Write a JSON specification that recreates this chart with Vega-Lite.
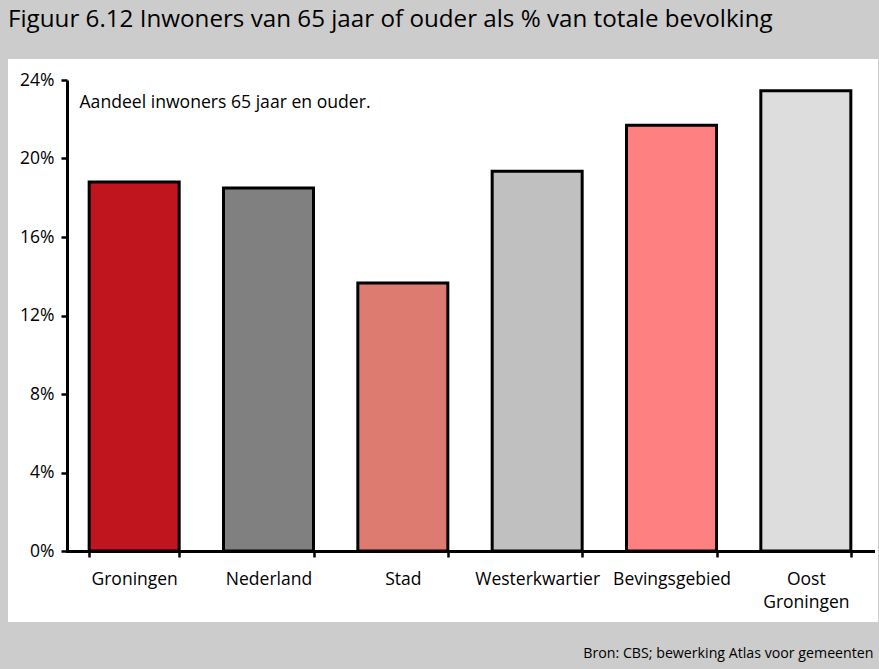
{
  "$schema": "https://vega.github.io/schema/vega-lite/v6.json",
  "autosize": {"type": "none"},
  "width": 870,
  "height": 563,
  "padding": {"left": 8, "top": 59, "right": 1, "bottom": 47},
  "background": "#cccccc",
  "config": {
    "font": "Open Sans",
    "view": {"fill": "white", "stroke": null}
  },
  "title": {
    "text": "Figuur 6.12 Inwoners van 65 jaar of ouder als % van totale bevolking",
    "anchor": "start",
    "frame": "group",
    "orient": "top",
    "fontSize": 24.2,
    "fontWeight": "normal",
    "color": "black",
    "baseline": "alphabetic",
    "offset": 8
  },
  "data": {
    "values": [
      {"regio": "Groningen", "aandeel": 18.8},
      {"regio": "Nederland", "aandeel": 18.5},
      {"regio": "Stad", "aandeel": 13.65},
      {"regio": "Westerkwartier", "aandeel": 19.35},
      {"regio": "Bevingsgebied", "aandeel": 21.7},
      {"regio": "Oost Groningen", "aandeel": 23.45}
    ]
  },
  "mark": {"type": "bar", "stroke": "black", "strokeWidth": 3, "cornerRadius": 0},
  "encoding": {
    "x": {
      "field": "regio",
      "type": "nominal",
      "sort": null,
      "scale": {"range": [59, 865], "paddingInner": 0.33, "paddingOuter": 0.165},
      "axis": {
        "title": "Bron: CBS; bewerking Atlas voor gemeenten",
        "titleFontSize": 14.2,
        "titleFontWeight": "normal",
        "titleColor": "black",
        "titleAnchor": "end",
        "titleAlign": "right",
        "titleBaseline": "alphabetic",
        "titleX": 865,
        "titleY": 106,
        "offset": -71,
        "domainColor": "black",
        "domainWidth": 3,
        "domainCap": "square",
        "tickBand": "extent",
        "tickColor": "black",
        "tickWidth": 2.5,
        "tickSize": 6,
        "labelAngle": 0,
        "labelFontSize": 17.5,
        "labelColor": "black",
        "labelPadding": 13,
        "labelLineHeight": 23,
        "labelBaseline": "top",
        "labelExpr": "datum.label == 'Oost Groningen' ? ['Oost', 'Groningen'] : datum.label"
      }
    },
    "y": {
      "field": "aandeel",
      "type": "quantitative",
      "scale": {"domain": [0, 24], "range": [492, 21], "nice": false},
      "axis": {
        "title": "Aandeel inwoners 65 jaar en ouder.",
        "titleFontSize": 17.6,
        "titleFontWeight": "normal",
        "titleColor": "black",
        "titleAngle": 0,
        "titleAlign": "left",
        "titleBaseline": "alphabetic",
        "titleX": 12,
        "titleY": 48,
        "offset": -59,
        "values": [0, 4, 8, 12, 16, 20, 24],
        "labelExpr": "datum.value + '%'",
        "domainColor": "black",
        "domainWidth": 3,
        "tickColor": "black",
        "tickWidth": 2.5,
        "tickSize": 6,
        "labelFontSize": 17.5,
        "labelColor": "black",
        "labelPadding": 7,
        "grid": false
      }
    },
    "color": {
      "field": "regio",
      "type": "nominal",
      "legend": null,
      "scale": {
        "domain": ["Groningen", "Nederland", "Stad", "Westerkwartier", "Bevingsgebied", "Oost Groningen"],
        "range": ["#c0141e", "#808080", "#de7b70", "#c0c0c0", "#ff8080", "#dddddd"]
      }
    }
  }
}
